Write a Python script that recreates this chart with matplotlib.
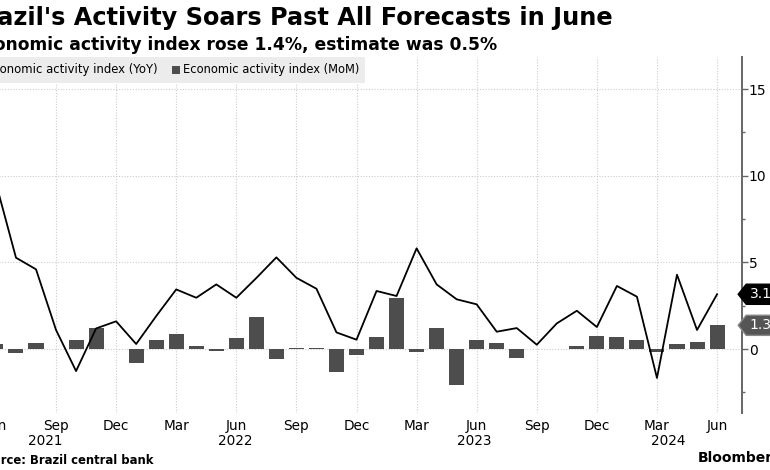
import numpy as np
import matplotlib
matplotlib.use("Agg")
import matplotlib.pyplot as plt
from matplotlib.path import Path
from matplotlib.patches import Rectangle
import matplotlib.transforms as mtransforms


# DATA  (monthly, Jun 2021 .. Jun 2024)

yoy = [9.57, 5.27, 4.6, 1.1, -1.27, 1.19, 1.6, 0.29, 1.9, 3.44, 2.96, 3.73,
       2.96, 4.1, 5.29, 4.11, 3.48, 0.96, 0.54, 3.35, 3.06, 5.81, 3.73, 2.87,
       2.58, 1.0, 1.21, 0.25, 1.48, 2.21, 1.27, 3.64, 3.02, -1.67, 4.29, 1.1,
       3.16]

mom = [0.29, -0.25, 0.35, 0.03, 0.5, 1.19, 0.02, -0.79, 0.5, 0.85, 0.17, -0.12,
       0.65, 1.83, -0.58, 0.05, 0.05, -1.31, -0.33, 0.67, 2.94, -0.17, 1.19, -2.06,
       0.5, 0.33, -0.54, 0.02, 0.02, 0.19, 0.75, 0.69, 0.5, -0.19, 0.29, 0.4,
       1.37]

month_labels = ["Jun", "Sep", "Dec", "Mar", "Jun", "Sep", "Dec", "Mar",
                "Jun", "Sep", "Dec", "Mar", "Jun"]
month_ticks = list(range(0, 37, 3))

year_labels = ["2021", "2022", "2023", "2024"]
year_pos = [2.45, 11.95, 23.9, 33.55]

last_yoy_label = "3.1"
last_mom_label = "1.3"

title = "Brazil's Activity Soars Past All Forecasts in June"
subtitle = "Economic activity index rose 1.4%, estimate was 0.5%"
source = "Source: Brazil central bank"

x = np.arange(len(yoy))

BAR = "#4d4d4d"
W, H = 770, 470


def px_x(p):
    return p / W


def px_y(p):          # p measured from top
    return 1 - p / H


# pointed label box (tip on the left)
def pointed_box(x0, y0, width, height, mutation_size):
    pad_x = 0.25 * mutation_size
    pad_y = 0.22 * mutation_size
    left = x0 - pad_x
    right = x0 + width + pad_x
    bot = y0 - pad_y
    top = y0 + height + pad_y
    tip = left - (top - bot) * 0.4
    verts = [(tip, (top + bot) / 2), (left, top), (right, top), (right, bot),
             (left, bot), (tip, (top + bot) / 2)]
    codes = [Path.MOVETO] + [Path.LINETO] * 4 + [Path.CLOSEPOLY]
    return Path(verts, codes)


fig = plt.figure(figsize=(7.7, 4.7), dpi=100)

# axes: left part of the chart runs off the canvas like the reference crop
ax_left, ax_right = -34.1, 741.7
ax_top, ax_bot = 57, 413
ax = fig.add_axes([px_x(ax_left), px_y(ax_bot),
                   px_x(ax_right - ax_left), (ax_bot - ax_top) / H])

ax.bar(x, mom, width=0.75, color=BAR, zorder=2)
ax.plot(x, yoy, color="black", lw=1.3, zorder=3)

ax.set_xlim(-1.5, 37.23)
ax.set_ylim(-3.69, 16.85)

for s in ["left", "top", "bottom"]:
    ax.spines[s].set_visible(False)
ax.spines["right"].set_color("#666666")
ax.spines["right"].set_linewidth(1.4)

ax.yaxis.tick_right()
ax.set_yticks([0, 5, 10, 15])
ax.set_yticks([-2.5, 2.5, 7.5, 12.5], minor=True)
ax.tick_params(axis="y", which="major", length=4, width=1, color="#666666",
               pad=1, labelsize=10)
ax.tick_params(axis="y", which="minor", length=2.5, width=1, color="#666666")

ax.set_xticks(month_ticks)
ax.set_xticklabels(month_labels)
ax.tick_params(axis="x", length=0, pad=4, labelsize=9.8)

ax.grid(True, which="major", color="#cccccc", ls=(0, (1, 1.5)), lw=0.8, zorder=0)

xt = ax.get_xaxis_transform()
for lab, p in zip(year_labels, year_pos):
    ax.text(p, -28 / (ax_bot - ax_top), lab, transform=xt, ha="center",
            va="center", fontsize=9.8)

# end-of-series labels
yt = ax.get_yaxis_transform()
shift = mtransforms.ScaledTranslation(8 / 100, 0, fig.dpi_scale_trans)
ax.text(1.0, yoy[-1], last_yoy_label, transform=yt + shift,
        ha="left", va="center", fontsize=10, color="white", clip_on=False,
        bbox=dict(boxstyle=pointed_box, fc="black", ec="black"))
ax.text(1.0, mom[-1], last_mom_label, transform=yt + shift,
        ha="left", va="center", fontsize=10, color="white", clip_on=False,
        bbox=dict(boxstyle=pointed_box, fc="#555555", ec="#888888"))

# legend strip
fig.patches.append(Rectangle((px_x(-120), px_y(83)), px_x(485), 26 / H,
                             transform=fig.transFigure, fc="#ececec", ec="none", zorder=1))
fig.text(px_x(158), px_y(70), "Economic activity index (YoY)", ha="right",
         va="center", fontsize=8.4, zorder=2)
fig.patches.append(Rectangle((px_x(172), px_y(74)), px_x(8), 8 / H,
                             transform=fig.transFigure, fc=BAR, ec="none", zorder=2))
fig.text(px_x(183), px_y(70), "Economic activity index (MoM)", ha="left",
         va="center", fontsize=8.3, zorder=2)

# titles and footer
fig.text(px_x(613), px_y(18), title, ha="right", va="center",
         fontsize=17.3, fontweight="bold")
fig.text(px_x(497), px_y(45), subtitle, ha="right", va="center",
         fontsize=12.3, fontweight="bold")
fig.text(px_x(154), px_y(460), source, ha="right", va="center",
         fontsize=8.4, fontweight="bold")
fig.text(px_x(698), px_y(458), "Bloomberg", ha="left", va="center",
         fontsize=10, fontweight="bold")

fig.savefig("out.png", dpi=100)
